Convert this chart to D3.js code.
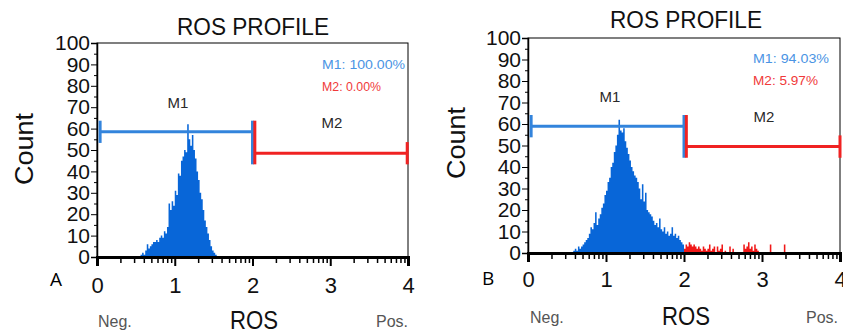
<!DOCTYPE html>
<html>
<head>
<meta charset="utf-8">
<script src="https://cdn.jsdelivr.net/npm/d3@7"></script>
<style>
  body { margin: 0; background: #fff; }
  svg { display: block; font-family: "Liberation Sans", Arial, sans-serif; }
</style>
</head>
<body>
<svg id="chart" width="843" height="332"></svg>
<script>
// histogram channels, in decades of ROS (0..4), fixed bin width
const binWidth = 0.02;

// Panel A: all events inside M1
const startA = 0.56;
const countsA = [1, 2, 1, 3, 6, 4, 5, 6, 7, 7, 8, 7, 9, 10, 9, 12, 11, 14, 25, 22,
    26, 24, 31, 29, 39, 38, 45, 47, 50, 49, 62, 55, 52, 57, 50, 46, 40, 36, 30, 27,
    22, 17, 14, 11, 8, 5, 3, 2, 1];

// Panel B: blue part (below 2) and red part (from 2 on)
const startB = 0.58;
const blueB = [1, 2, 1, 3, 2, 3, 4, 5, 6, 7, 9, 12, 11, 14, 19, 13, 16, 18, 21, 23,
    27, 29, 33, 35, 40, 42, 47, 50, 55, 62, 57, 56, 58, 52, 49, 46, 43, 40, 38, 36,
    35, 33, 30, 25, 32, 24, 28, 20, 19, 18, 17, 15, 13, 14, 12, 16, 11, 10, 12, 9,
    10, 8, 9, 12, 8, 9, 7, 8, 6, 5, 4];
const startRedB = 2.0;
const redB = [2, 4, 3, 5, 4, 3, 4, 3, 2, 3, 2, 1, 3, 2, 1, 2, 4, 1, 2, 3,
    0, 3, 1, 2, 4, 0, 1, 0, 0, 3, 0, 2, 0, 0, 0, 0, 0, 0, 4, 2,
    3, 5, 2, 3, 1, 4, 2, 1, 0, 0, 0, 0, 0, 0, 0, 4, 0, 0, 0, 0,
    0, 0, 0, 0, 4];

const xTickLabels = ['0', '1', '2', '3', '4'];
const yTicks = [0, 10, 20, 30, 40, 50, 60, 70, 80, 90, 100];

// gates: [from, to, height]
const gateM1A = [0.04, 2.0, 58.5];
const gateM2A = [2.03, 3.99, 48.5];
const gateM1B = [0.04, 2.0, 59];
const gateM2B = [2.03, 4.0, 49.5];
const statsA = ['M1: 100.00%', 'M2: 0.00%'];
const statsB = ['M1: 94.03%', 'M2: 5.97%'];

const BLUE = '#0866d8';
const RED = '#f01818';
const GATE_BLUE = '#3384dc';
const GATE_RED = '#f02222';

const svg = d3.select('#chart');

function drawPanel(p) {
    const x = d3.scaleLinear().domain([0, 4]).range([p.left, p.right]);
    const y = d3.scaleLinear().domain([0, 100]).range([p.bottom, p.top]);
    const g = svg.append('g');

    g.append('rect')
        .attr('x', p.left).attr('y', p.top)
        .attr('width', p.right - p.left).attr('height', p.bottom - p.top)
        .attr('fill', 'none').attr('stroke', '#000').attr('stroke-width', 1);

    // histogram bars as one stepped area per colour
    const area = d3.area()
        .x(d => x(d[0]))
        .y0(y(0))
        .y1(d => y(d[1]))
        .curve(d3.curveStepAfter);
    p.series.forEach(s => {
        const pts = s.values.map((v, i) => [s.start + i * binWidth, v]);
        pts.push([s.start + s.values.length * binWidth, 0]);
        g.append('path').datum(pts).attr('d', area).attr('fill', s.color);
    });

    // x axis: decades with log minor ticks
    const minor = d3.range(0, 4).flatMap(k => d3.range(2, 10).map(m => k + Math.log10(m)));
    g.append('g')
        .attr('transform', `translate(0,${p.bottom})`)
        .call(d3.axisBottom(x).tickValues(minor).tickSize(6).tickFormat(''))
        .call(a => a.select('.domain').remove())
        .selectAll('line').attr('stroke-width', 1.5);
    const xa = g.append('g')
        .attr('transform', `translate(0,${p.bottom})`)
        .call(d3.axisBottom(x).tickValues(d3.range(0, 5)).tickSize(9).tickPadding(p.tickPad)
            .tickFormat(d => xTickLabels[d]));
    xa.select('.domain').attr('stroke-width', 3);
    xa.selectAll('line').attr('stroke-width', 2);
    xa.selectAll('text').attr('font-size', 22).attr('fill', '#111')
        .attr('font-family', '"Liberation Sans", Arial, sans-serif');

    // y axis, labels packed tight like the original
    g.append('g')
        .attr('transform', `translate(${p.left},0)`)
        .call(d3.axisLeft(y).tickValues(d3.range(5, 100, 10)).tickSize(3).tickFormat(''))
        .call(a => a.select('.domain').remove());
    const ya = g.append('g')
        .attr('transform', `translate(${p.left},0)`)
        .call(d3.axisLeft(y).tickValues(yTicks).tickSize(6).tickPadding(p.yPad));
    ya.select('.domain').attr('stroke-width', 1.5);
    ya.selectAll('text').attr('font-size', 21).attr('fill', '#111')
        .attr('font-family', '"Liberation Sans", Arial, sans-serif');

    // gates
    const cap = 5.2;
    function hline(d0, d1, v, color) {
        g.append('line')
            .attr('x1', x(d0)).attr('x2', x(d1)).attr('y1', y(v)).attr('y2', y(v))
            .attr('stroke', color).attr('stroke-width', 3);
    }
    function vline(d, v0, v1, color) {
        g.append('line')
            .attr('x1', x(d)).attr('x2', x(d)).attr('y1', y(v0)).attr('y2', y(v1))
            .attr('stroke', color).attr('stroke-width', 3);
    }
    hline(p.m1[0], p.m1[1], p.m1[2], GATE_BLUE);
    vline(p.m1[0], p.m1[2] - cap, p.m1[2] + cap, GATE_BLUE);
    vline(p.m1[1], p.m2[2] - cap, p.m1[2] + cap, GATE_BLUE);
    hline(p.m2[0], p.m2[1], p.m2[2], GATE_RED);
    vline(p.m2[0], p.m2[2] - cap, p.m1[2] + cap, GATE_RED);
    vline(p.m2[1], p.m2[2] - cap, p.m2[2] + cap, GATE_RED);

    g.append('text').attr('x', p.m1Label[0]).attr('y', p.m1Label[1])
        .attr('text-anchor', 'middle').attr('font-size', 15).attr('fill', '#2a2a2a').text('M1');
    g.append('text').attr('x', p.m2Label[0]).attr('y', p.m2Label[1])
        .attr('text-anchor', 'middle').attr('font-size', 15).attr('fill', '#2a2a2a').text('M2');

    g.append('text').attr('x', p.statX).attr('y', p.statY[0])
        .attr('font-size', 13).attr('fill', '#4a94e4').attr('textLength', p.statLen[0])
        .attr('lengthAdjust', 'spacingAndGlyphs').text(p.stats[0]);
    g.append('text').attr('x', p.statX).attr('y', p.statY[1])
        .attr('font-size', 13).attr('fill', '#f03a3a').attr('textLength', p.statLen[1])
        .attr('lengthAdjust', 'spacingAndGlyphs').text(p.stats[1]);

    // titles and labels
    g.append('text').attr('x', p.titleX).attr('y', p.titleY)
        .attr('text-anchor', 'middle').attr('font-size', 24).attr('fill', '#111')
        .attr('textLength', 152).attr('lengthAdjust', 'spacingAndGlyphs').text('ROS PROFILE');
    g.append('text')
        .attr('transform', `translate(${p.countX},${p.countY}) rotate(-90)`)
        .attr('text-anchor', 'middle').attr('font-size', 25).attr('fill', '#111')
        .attr('textLength', 72).attr('lengthAdjust', 'spacingAndGlyphs').text('Count');
    g.append('text').attr('x', p.rosX).attr('y', p.rosY)
        .attr('text-anchor', 'middle').attr('font-size', 25).attr('fill', '#111')
        .attr('textLength', 48).attr('lengthAdjust', 'spacingAndGlyphs').text('ROS');
    g.append('text').attr('x', p.negX).attr('y', p.negY)
        .attr('font-size', 16).attr('fill', '#555').text('Neg.');
    g.append('text').attr('x', p.posX).attr('y', p.negY)
        .attr('font-size', 16).attr('fill', '#555').text('Pos.');
    g.append('text').attr('x', p.letterX).attr('y', p.letterY)
        .attr('font-size', 19).attr('fill', '#000')
        .attr('font-family', '"Open Sans", "Liberation Sans", sans-serif').text(p.letter);
}

drawPanel({
    left: 97, right: 408, top: 43, bottom: 257, tickPad: 11, yPad: 1,
    series: [{ start: startA, values: countsA, color: BLUE }],
    m1: gateM1A, m2: gateM2A, m1Label: [178, 108], m2Label: [332, 128],
    stats: statsA, statX: 322, statY: [69, 91], statLen: [83, 59],
    titleX: 253, titleY: 35, countX: 33, countY: 149,
    rosX: 254, rosY: 329, negX: 98, negY: 327, posX: 376,
    letter: 'A', letterX: 50, letterY: 286
});

drawPanel({
    left: 528, right: 840, top: 38, bottom: 253, tickPad: 9, yPad: 1,
    series: [
        { start: startB, values: blueB, color: BLUE },
        { start: startRedB, values: redB, color: RED }
    ],
    m1: gateM1B, m2: gateM2B, m1Label: [610, 102], m2Label: [764, 122],
    stats: statsB, statX: 753, statY: [63, 85], statLen: [76, 65],
    titleX: 686, titleY: 28, countX: 465, countY: 143,
    rosX: 686, rosY: 325, negX: 530, negY: 323, posX: 806,
    letter: 'B', letterX: 482, letterY: 285
});
</script>
</body>
</html>
